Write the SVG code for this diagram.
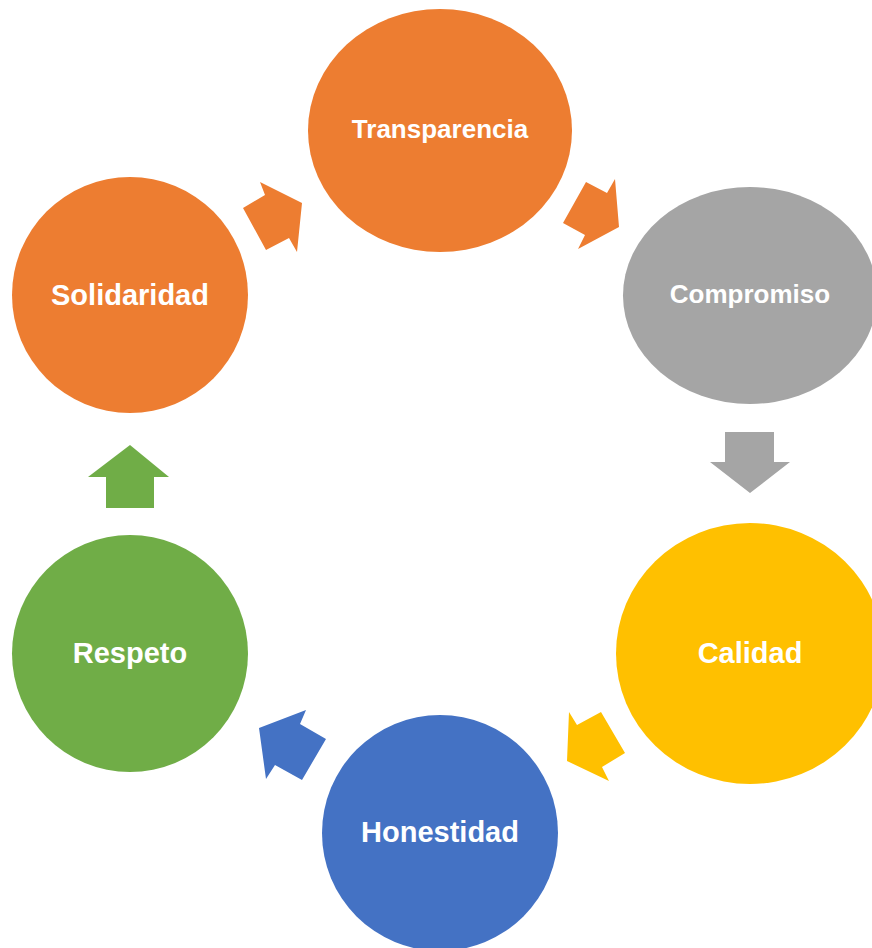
<svg xmlns="http://www.w3.org/2000/svg" width="872" height="948" viewBox="0 0 872 948">
  <style>
    .lbl { font-family: "Liberation Sans", Arial, sans-serif; font-weight: bold; fill: #FFFFFF; text-anchor: middle; }
    .orange { fill: #ED7D31; }
    .gray { fill: #A5A5A5; }
    .yellow { fill: #FFC000; }
    .blue { fill: #4472C4; }
    .green { fill: #70AD47; }
  </style>
  <rect width="872" height="948" fill="#FFFFFF"/>

  <!-- cycle arrows -->
  <g id="connectors">
    <polygon class="orange" points="302,203 260,182 265,195 243,208 266,250 289,238 297,252"/>
    <polygon class="orange" points="619,227 615,179 607,193 586,182 563,223 585,235 578,249"/>
    <polygon class="gray" points="725,432 774,432 774,462 790,462 750,493 710,462 725,462"/>
    <polygon class="yellow" points="567,761 569,712 577,725 601,712 625,753 602,767 609,781"/>
    <polygon class="blue" points="259,728 306,710 300,724 326,739 302,780 275,765 266,779"/>
    <polygon class="green" points="130,445 169,477 154,477 154,508 106,508 106,477 88,477"/>
  </g>

  <g id="transparencia">
    <ellipse class="orange" cx="440" cy="130.5" rx="132" ry="121.5"/>
    <text class="lbl" x="440" y="138" font-size="26">Transparencia</text>
  </g>
  <g id="compromiso">
    <ellipse class="gray" cx="750" cy="295.5" rx="127" ry="108.5"/>
    <text class="lbl" x="750" y="303" font-size="26">Compromiso</text>
  </g>
  <g id="calidad">
    <ellipse class="yellow" cx="750" cy="653.5" rx="134" ry="130.5"/>
    <text class="lbl" x="750" y="663" font-size="29">Calidad</text>
  </g>
  <g id="honestidad">
    <ellipse class="blue" cx="440" cy="833" rx="118" ry="118"/>
    <text class="lbl" x="440" y="842" font-size="29">Honestidad</text>
  </g>
  <g id="respeto">
    <ellipse class="green" cx="130" cy="653.5" rx="118" ry="118.5"/>
    <text class="lbl" x="130" y="663" font-size="29">Respeto</text>
  </g>
  <g id="solidaridad">
    <ellipse class="orange" cx="130" cy="295" rx="118" ry="118"/>
    <text class="lbl" x="130" y="305" font-size="29">Solidaridad</text>
  </g>
</svg>
